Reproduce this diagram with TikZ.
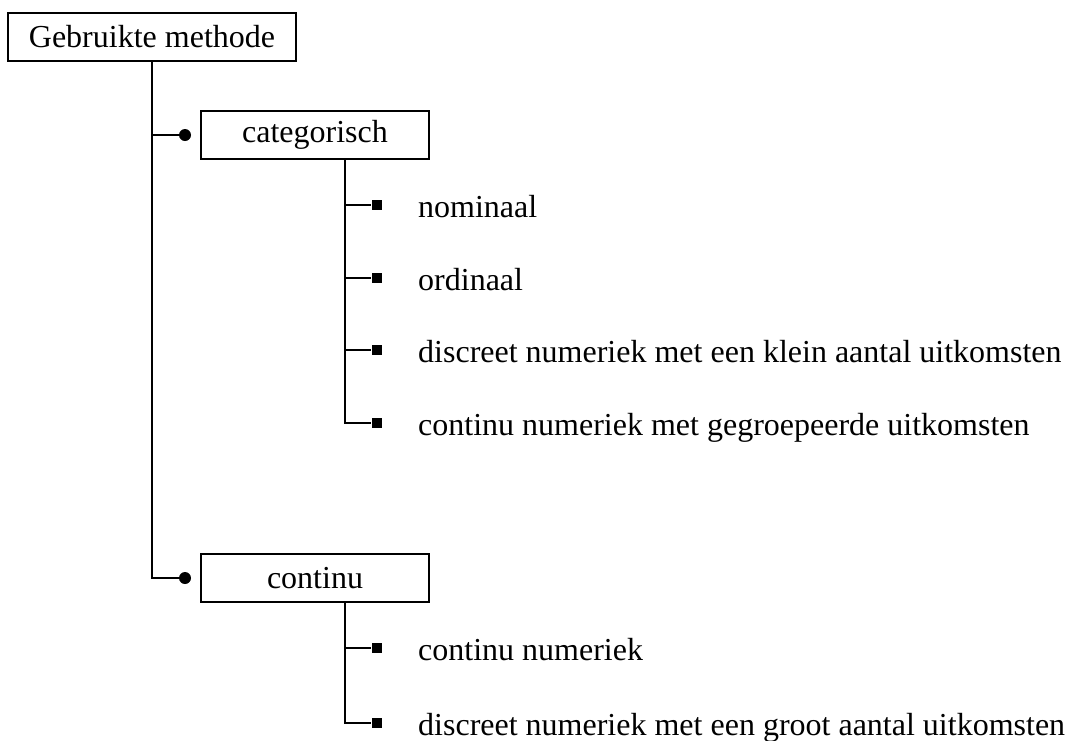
\documentclass[tikz,border=0pt]{standalone}
\usepackage{fontspec}
\setmainfont{Liberation Serif}
\begin{document}
\begin{tikzpicture}[x=1pt,y=-1pt,
  every node/.style={font=\fontsize{32}{38}\selectfont},
  box/.style={draw, line width=2pt, minimum height=48pt, inner sep=0pt},
  dot/.style={circle, fill=black, minimum size=12pt, inner sep=0pt},
  sq/.style={rectangle, fill=black, minimum size=10pt, inner sep=0pt},
  lbl/.style={anchor=base west, inner sep=0pt},
  conn/.style={line width=2pt}]
\useasboundingbox (0,0) rectangle (1068,740);
% root
\node[box, minimum width=288pt] (root) at (152,37) {Gebruikte methode};
% level 1
\node[dot] (d1) at (185,135) {};
\node[box, minimum width=228pt] (cat) at (315,135) {categorisch};
\node[dot] (d2) at (185,578) {};
\node[box, minimum width=228pt] (con) at (315,578) {continu};
\draw[conn] (root.south) |- (d1);
\draw[conn] (root.south) |- (d2);
% categorisch children
\node[sq] (s1) at (376.5,205) {};
\node[sq] (s2) at (376.5,278) {};
\node[sq] (s3) at (376.5,350) {};
\node[sq] (s4) at (376.5,423) {};
\node[lbl] (t1) at (418,217) {nominaal};
\node[lbl] (t2) at (418,290) {ordinaal};
\node[lbl] (t3) at (418,362) {discreet numeriek met een klein aantal uitkomsten};
\node[lbl] (t4) at (418,435) {continu numeriek met gegroepeerde uitkomsten};
\coordinate (cj) at ([xshift=30pt]cat.south);
\foreach \s in {s1,s2,s3,s4} \draw[conn] (cj) |- (\s);
% continu children
\node[sq] (s5) at (376.5,648) {};
\node[sq] (s6) at (376.5,723) {};
\node[lbl] (t5) at (418,660) {continu numeriek};
\node[lbl] (t6) at (418,735) {discreet numeriek met een groot aantal uitkomsten};
\coordinate (kj) at ([xshift=30pt]con.south);
\foreach \s in {s5,s6} \draw[conn] (kj) |- (\s);
\end{tikzpicture}
\end{document}
